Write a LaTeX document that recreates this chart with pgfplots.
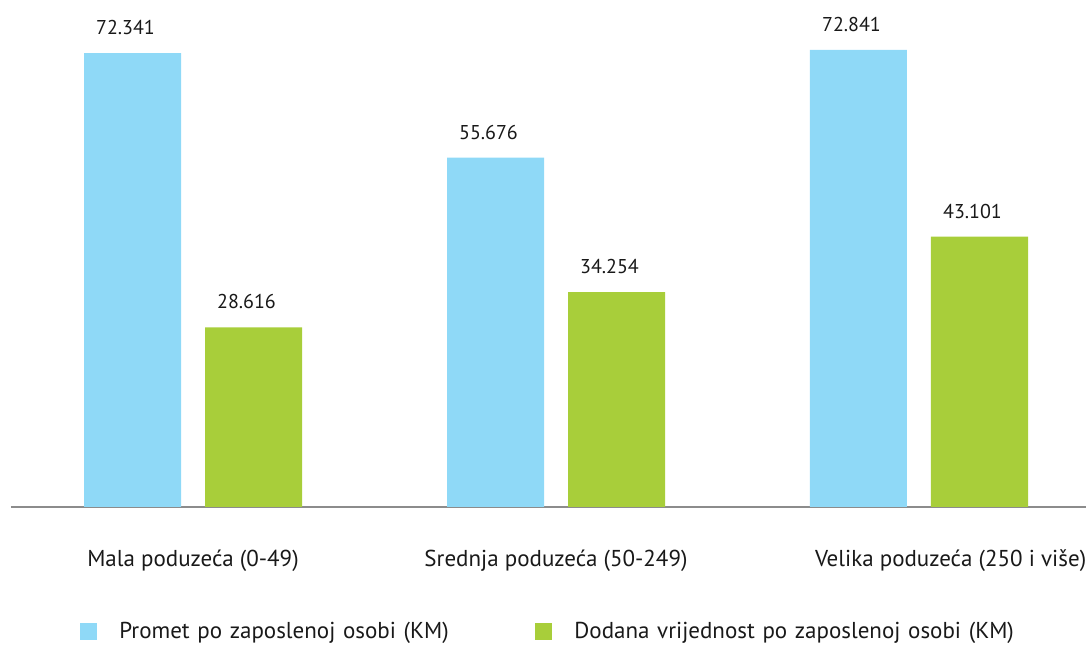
\documentclass[border=0pt]{standalone}
\usepackage{pgfplots}
\pgfplotsset{compat=1.18}
\usepackage{fontspec}
\setmainfont{PT Sans}
\definecolor{cblue}{HTML}{8FD9F7}
\definecolor{cgreen}{HTML}{A8CE3A}
\definecolor{cgray}{HTML}{8C8C8C}
\begin{document}
\begin{tikzpicture}
\useasboundingbox (-5.5pt,-69.5pt) rectangle (537.5pt,253.5pt);
\begin{axis}[
  at={(0,0)}, anchor=south west,
  scale only axis,
  width=537.5pt, height=251pt,
  xmin=-0.5014, xmax=2.4601,
  ymin=0, ymax=80,
  clip=false,
  axis x line=bottom,
  axis y line=none,
  x axis line style={-, draw=cgray, line width=1.1pt},
  xtick={0,1,2},
  major tick length=0pt,
  xticklabels={Mala poduzeća (0-49), Srednja poduzeća (50-249), {\makebox[0pt][l]{\hspace{-52pt}Velika poduzeća (250 i više)}}},
  xticklabel style={anchor=base, yshift=-30pt, font=\fontsize{11.5}{13}\selectfont, text=black!90},
  ybar,
  bar width=48.5pt,
  nodes near coords,
  point meta=explicit symbolic,
  every node near coord/.append style={anchor=base, yshift=9.25pt, xshift=-3.5pt, font=\fontsize{10}{12}\selectfont, text=black!90},
  legend columns=2,
  legend style={at={(axis description cs:0.0642,-0.249)}, anchor=west, draw=none, fill=none,
    inner sep=0pt, font=\fontsize{11.5}{13}\selectfont, text=black!90,
    nodes={inner sep=0pt, text width=208pt, align=left},
    /tikz/every odd column/.append style={column sep=11pt}},
  legend image code/.code={\fill[#1, draw=none] (0pt,-4.25pt) rectangle (8.5pt,4.25pt);},
]
\addplot[fill=cblue, draw=none, bar shift=-30.25pt] coordinates {(0,72.341) [72.341] (1,55.676) [55.676] (2,72.841) [72.841]};
\addplot[fill=cgreen, draw=none, bar shift=30.25pt] coordinates {(0,28.616) [28.616] (1,34.254) [34.254] (2,43.101) [43.101]};
\legend{Promet po zaposlenoj osobi (KM), \makebox[0pt][l]{Dodana vrijednost po zaposlenoj osobi (KM)}}
\end{axis}
\end{tikzpicture}
\end{document}
